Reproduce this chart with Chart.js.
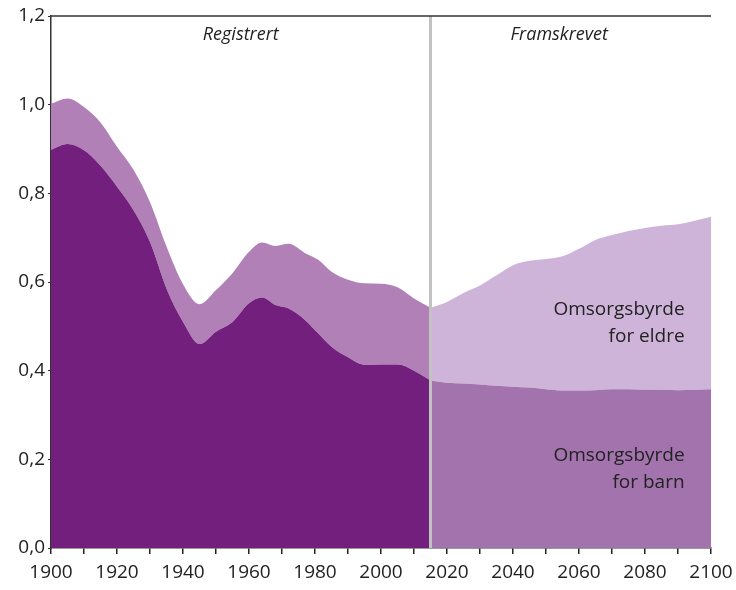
<!DOCTYPE html>
<html>
<head>
<meta charset="utf-8">
<script src="https://cdn.jsdelivr.net/npm/chart.js@4"></script>
<style>
  html, body { margin: 0; padding: 0; background: #fff; }
  #wrap { width: 736px; height: 590px; }
</style>
</head>
<body>
<div id="wrap"><canvas id="burden"></canvas></div>
<script>
// -- data --
const regYears = [1900, 1905, 1910, 1915, 1920, 1925, 1930, 1935, 1940, 1945, 1950, 1955, 1960, 1964, 1968, 1972, 1977, 1981, 1985, 1990, 1995, 2000, 2005, 2010, 2015];
const regBarn  = [0.898, 0.911, 0.897, 0.862, 0.815, 0.762, 0.690, 0.585, 0.510, 0.460, 0.488, 0.510, 0.552, 0.565, 0.548, 0.540, 0.514, 0.484, 0.454, 0.430, 0.413, 0.414, 0.414, 0.400, 0.378];
const regEldre = [0.104, 0.103, 0.098, 0.098, 0.090, 0.091, 0.090, 0.095, 0.085, 0.090, 0.094, 0.110, 0.116, 0.124, 0.133, 0.146, 0.151, 0.166, 0.169, 0.175, 0.184, 0.182, 0.174, 0.163, 0.164];

const projYears = [2015, 2020, 2025, 2030, 2035, 2040, 2045, 2050, 2055, 2060, 2065, 2070, 2075, 2080, 2085, 2090, 2095, 2100];
const projBarn  = [0.378, 0.373, 0.371, 0.369, 0.366, 0.364, 0.362, 0.358, 0.355, 0.355, 0.356, 0.358, 0.358, 0.357, 0.357, 0.356, 0.357, 0.358];
const projEldre = [0.164, 0.182, 0.204, 0.223, 0.249, 0.274, 0.286, 0.294, 0.303, 0.320, 0.339, 0.348, 0.357, 0.365, 0.370, 0.374, 0.381, 0.389];

const splitYear = 2015;
const yTicks = [0, 0.2, 0.4, 0.6, 0.8, 1.0, 1.2];

const FONT = "'Open Sans', sans-serif";

function pts(xs, ys) {
    return xs.map((x, i) => ({ x: x, y: ys[i] }));
}

function area(label, xs, ys, color, stack, fill) {
    return {
        label: label,
        data: pts(xs, ys),
        stack: stack,
        fill: fill,
        backgroundColor: color,
        borderWidth: 0,
        pointRadius: 0,
        cubicInterpolationMode: 'monotone'
    };
}

// split line, top border and text labels
const decor = {
    id: 'decor',
    afterDatasetsDraw(chart) {
        const ctx = chart.ctx;
        const xs = chart.scales.x, ys = chart.scales.y;
        const a = chart.chartArea;
        ctx.save();

        const sx = xs.getPixelForValue(splitYear);
        ctx.strokeStyle = '#c2c2c2';
        ctx.lineWidth = 3;
        ctx.beginPath();
        ctx.moveTo(sx, a.top);
        ctx.lineTo(sx, a.bottom);
        ctx.stroke();

        ctx.strokeStyle = '#333';
        ctx.lineWidth = 1.5;
        ctx.beginPath();
        ctx.moveTo(a.left, a.top);
        ctx.lineTo(a.right, a.top);
        ctx.stroke();

        ctx.fillStyle = '#222';
        ctx.textBaseline = 'middle';
        ctx.textAlign = 'center';
        ctx.font = 'italic 18px ' + FONT;
        ctx.fillText('Registrert', xs.getPixelForValue(1957.5), a.top + 19);
        ctx.fillText('Framskrevet', xs.getPixelForValue(2054), a.top + 19);

        ctx.textAlign = 'right';
        ctx.font = '19px ' + FONT;
        const rx = xs.getPixelForValue(2092);
        ctx.fillText('Omsorgsbyrde', rx, ys.getPixelForValue(0.537));
        ctx.fillText('for eldre', rx, ys.getPixelForValue(0.476));
        ctx.fillText('Omsorgsbyrde', rx, ys.getPixelForValue(0.208));
        ctx.fillText('for barn', rx, ys.getPixelForValue(0.147));
        ctx.restore();
    }
};

new Chart(document.getElementById('burden').getContext('2d'), {
    type: 'line',
    data: {
        datasets: [
            area('Omsorgsbyrde for barn', regYears, regBarn, '#721f7d', 'reg', 'origin'),
            area('Omsorgsbyrde for eldre', regYears, regEldre, '#b080b7', 'reg', '-1'),
            area('Omsorgsbyrde for barn (framskrevet)', projYears, projBarn, '#a373ad', 'proj', 'origin'),
            area('Omsorgsbyrde for eldre (framskrevet)', projYears, projEldre, '#cfb4da', 'proj', '-1')
        ]
    },
    options: {
        responsive: true,
        maintainAspectRatio: false,
        animation: false,
        layout: { padding: { top: 16, right: 25, left: 0, bottom: 0 } },
        plugins: {
            legend: { display: false },
            tooltip: { enabled: false }
        },
        scales: {
            x: {
                type: 'linear',
                min: 1900,
                max: 2100,
                afterFit(s) {
                    s.height = 42;
                    s.paddingRight = 0;
                    s.paddingLeft = 0;
                },
                afterBuildTicks(s) {
                    const t = [];
                    for (let v = 1900; v <= 2100; v += 10) t.push({ value: v });
                    s.ticks = t;
                },
                border: { display: true, color: '#333', width: 1.5 },
                grid: { display: true, drawOnChartArea: false, drawTicks: true, tickLength: 6, color: '#222', lineWidth: 1.5 },
                ticks: {
                    autoSkip: false,
                    maxRotation: 0,
                    padding: 7,
                    color: '#222',
                    font: { family: FONT, size: 19 },
                    callback: (v) => (v % 20 === 0 ? String(v) : '')
                }
            },
            y: {
                stacked: true,
                min: 0,
                max: 1.2,
                afterFit(s) { s.width = 51; },
                afterBuildTicks(s) { s.ticks = yTicks.map(v => ({ value: v })); },
                border: { display: true, color: '#333', width: 1.5 },
                grid: { display: true, drawOnChartArea: false, drawTicks: true, tickLength: 3, color: '#333' },
                ticks: {
                    padding: 3,
                    color: '#222',
                    font: { family: FONT, size: 19 },
                    callback: (v) => v.toFixed(1).replace('.', ',')
                }
            }
        }
    },
    plugins: [decor]
});
</script>
</body>
</html>
